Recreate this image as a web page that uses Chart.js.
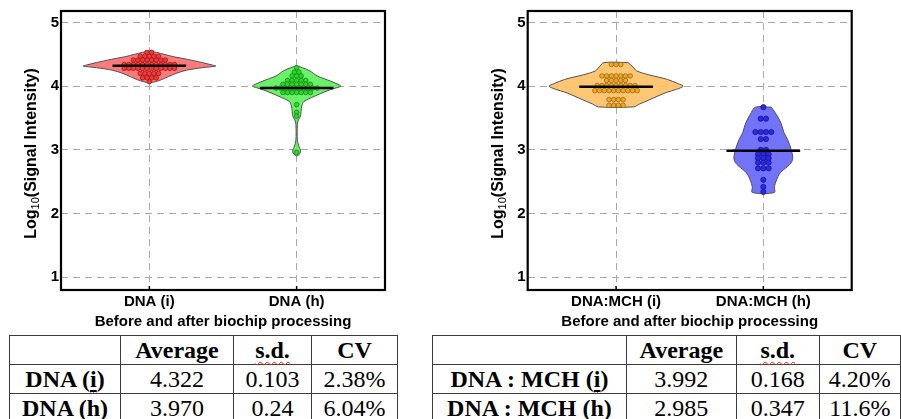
<!DOCTYPE html>
<html>
<head>
<meta charset="utf-8">
<script src="https://cdn.jsdelivr.net/npm/chart.js@4.4.1/dist/chart.umd.min.js"></script>
<style>
  html, body { margin: 0; padding: 0; background: #fff; }
  body { width: 901px; height: 419px; overflow: hidden; position: relative; }
  canvas { position: absolute; top: 0; }
  #chartLeft { left: 0; }
  #chartRight { left: 450px; }
  table {
    position: absolute; top: 335px; border-collapse: collapse; table-layout: fixed;
    font-family: "Liberation Serif", "Times New Roman", Tinos, "DejaVu Serif", serif; font-size: 24px; color: #000;
  }
  td { font-family: "Liberation Serif", "Times New Roman", Tinos, "DejaVu Serif", serif; border: 1px solid #3c3c3c; padding: 0; height: 28px; line-height: 27px; text-align: center; white-space: nowrap; }
  td.b { font-weight: bold; }
  .sq { text-decoration-line: underline; text-decoration-style: wavy; text-decoration-color: #e02020; text-decoration-thickness: 1px; text-underline-offset: 3px; }
  #tableLeft { left: 9px; }
  #tableRight { left: 432px; }
</style>
</head>
<body>
<canvas id="chartLeft" width="450" height="335"></canvas>
<canvas id="chartRight" width="450" height="335"></canvas>
<table id="tableLeft"><colgroup><col style="width:111px"><col style="width:113px"><col style="width:78px"><col style="width:86px"></colgroup><tbody></tbody></table>
<table id="tableRight"><colgroup><col style="width:195px"><col style="width:111px"><col style="width:84px"><col style="width:82px"></colgroup><tbody></tbody></table>
<script>
'use strict';

// categories / axis text
const leftGroups = ['DNA (i)', 'DNA (h)'];
const rightGroups = ['DNA:MCH (i)', 'DNA:MCH (h)'];
const xTitle = 'Before and after biochip processing';
const yTickValues = [1, 2, 3, 4, 5];

// table values
const tableHead = ['', 'Average', 's.d.', 'CV'];
const leftRows = ['DNA (i)', 'DNA (h)'];
const leftAvg = ['4.322', '3.970'];
const leftSd = ['0.103', '0.24'];
const leftCv = ['2.38%', '6.04%'];
const rightRows = ['DNA : MCH (i)', 'DNA : MCH (h)'];
const rightAvg = ['3.992', '2.985'];
const rightSd = ['0.168', '0.347'];
const rightCv = ['4.20%', '11.6%'];

// mean lines
const leftMeans = [4.322, 3.970];
const rightMeans = [3.992, 2.985];

// individual spots, log10 signal
const dnaI = [4.53, 4.53,
  4.47, 4.47, 4.47, 4.47, 4.47,
  4.41, 4.41, 4.41, 4.41, 4.41, 4.41, 4.41, 4.41,
  4.34, 4.34, 4.34, 4.34, 4.34, 4.34, 4.34, 4.34, 4.34, 4.34, 4.34, 4.34,
  4.28, 4.28, 4.28, 4.28, 4.28, 4.28, 4.28, 4.28, 4.28, 4.28, 4.28, 4.28,
  4.20, 4.20, 4.20, 4.20, 4.20,
  4.13, 4.13, 4.13, 4.13,
  4.07];
const dnaH = [4.29,
  4.22, 4.22,
  4.16, 4.16, 4.16,
  4.09, 4.09, 4.09, 4.09, 4.09,
  4.03, 4.03, 4.03, 4.03, 4.03, 4.03, 4.03,
  3.97, 3.97, 3.97, 3.97, 3.97, 3.97, 3.97, 3.97, 3.97, 3.97,
  3.90, 3.90, 3.90, 3.90, 3.90, 3.90, 3.90,
  3.71, 3.59, 3.53, 2.96];
const mchI = [4.34, 4.34, 4.34,
  4.16, 4.16, 4.16, 4.16, 4.16, 4.16, 4.16,
  4.09, 4.09, 4.09, 4.09, 4.09,
  4.01, 4.01, 4.01, 4.01, 4.01, 4.01, 4.01, 4.01, 4.01,
  3.93, 3.93, 3.93, 3.93, 3.93, 3.93, 3.93, 3.93, 3.93, 3.93,
  3.79, 3.79, 3.79, 3.79,
  3.70, 3.70, 3.70, 3.70];
const mchH = [3.67,
  3.49, 3.49,
  3.28, 3.28, 3.28, 3.28,
  3.17, 3.17,
  3.00, 3.00,
  2.93, 2.93, 2.93,
  2.87, 2.87, 2.87,
  2.80, 2.80, 2.80,
  2.71, 2.71, 2.71,
  2.53, 2.42, 2.34];

// violin density outlines: level and half width (x units)
const dnaILevels = [4.55, 4.53, 4.50, 4.46, 4.42, 4.37, 4.33, 4.315, 4.29, 4.25, 4.20, 4.15, 4.10, 4.07, 4.05];
const dnaIWidths = [0, 0.05, 0.10, 0.17, 0.26, 0.36, 0.43, 0.45, 0.36, 0.25, 0.18, 0.13, 0.08, 0.04, 0];
const dnaHLevels = [4.32, 4.29, 4.24, 4.16, 4.08, 4.03, 4.00, 3.96, 3.92, 3.84, 3.76, 3.69, 3.60, 3.52, 3.47, 3.40, 3.15, 3.06, 2.98, 2.93, 2.90];
const dnaHWidths = [0, 0.04, 0.09, 0.14, 0.23, 0.28, 0.30, 0.25, 0.20, 0.12, 0.05, 0.035, 0.03, 0.025, 0.012, 0.005, 0.005, 0.015, 0.027, 0.018, 0];
const mchILevels = [4.37, 4.30, 4.24, 4.18, 4.105, 4.04, 4.00, 3.95, 3.90, 3.79, 3.72, 3.675];
const mchIWidths = [0.082, 0.115, 0.14, 0.22, 0.35, 0.42, 0.455, 0.41, 0.34, 0.23, 0.16, 0.12];
const mchHLevels = [3.67, 3.55, 3.42, 3.27, 3.16, 3.00, 2.87, 2.80, 2.74, 2.64, 2.53, 2.42, 2.33];
const mchHWidths = [0.054, 0.09, 0.12, 0.14, 0.165, 0.19, 0.20, 0.19, 0.165, 0.115, 0.09, 0.075, 0.075];

const FONT = "'Liberation Sans', Arial, sans-serif";

// closed outline: right side top->bottom, left side bottom->top, back to start
function outline(levels, widths, center) {
    const pts = [];
    levels.forEach((y, i) => pts.push({ x: center + widths[i], y }));
    for (let i = levels.length - 1; i >= 0; i--) pts.push({ x: center - widths[i], y: levels[i] });
    pts.push(pts[0]);
    return pts;
}

// simple beeswarm: equal values sit side by side
function swarm(values, center, step) {
    const rows = new Map();
    values.forEach(v => rows.set(v, (rows.get(v) || 0) + 1));
    const pts = [];
    rows.forEach((n, v) => {
        for (let k = 0; k < n; k++) pts.push({ x: center + (k - (n - 1) / 2) * step, y: v });
    });
    return pts;
}

const framePlugin = {
    id: 'frame',
    afterDraw(chart) {
        const { ctx, chartArea: a, scales } = chart;
        ctx.save();
        ctx.strokeStyle = '#000';
        ctx.lineWidth = 1.5;
        scales.x.ticks.forEach(t => {
            const px = scales.x.getPixelForValue(t.value);
            ctx.beginPath(); ctx.moveTo(px, a.bottom); ctx.lineTo(px, a.bottom - 4); ctx.stroke();
        });
        ctx.lineWidth = 2.2;
        ctx.strokeRect(a.left, a.top, a.right - a.left, a.bottom - a.top);
        ctx.restore();
    }
};

const yTitlePlugin = {
    id: 'yTitle',
    afterDraw(chart) {
        const { ctx, chartArea: a } = chart;
        const big = `bold 16px ${FONT}`;
        const small = `11px ${FONT}`;
        const parts = [['Log', big, 0], ['10', small, 3], ['(Signal Intensity)', big, 0]];
        ctx.save();
        ctx.translate(a.left - 25, (a.top + a.bottom) / 2 + 3);
        ctx.rotate(-Math.PI / 2);
        ctx.fillStyle = '#000';
        ctx.textAlign = 'left';
        ctx.textBaseline = 'alphabetic';
        let total = 0;
        parts.forEach(p => { ctx.font = p[1]; total += ctx.measureText(p[0]).width; });
        let x = -total / 2;
        parts.forEach(p => {
            ctx.font = p[1];
            ctx.fillText(p[0], x, p[2]);
            x += ctx.measureText(p[0]).width;
        });
        ctx.restore();
    }
};

function makeChart(id, groups, means, series, axisWidth, rightPad) {
    const datasets = [];
    series.forEach((s, i) => {
        const c = i + 1;
        datasets.push({
            type: 'line', indexAxis: 'y', data: outline(s.levels, s.widths, c),
            fill: 'shape', backgroundColor: s.fill, borderColor: '#505050', borderWidth: 1,
            pointRadius: 0, tension: 0.3, order: 3
        });
        datasets.push({
            type: 'scatter', data: swarm(s.values, c, s.step),
            backgroundColor: s.dot, borderColor: s.edge, borderWidth: 0.8, pointRadius: s.r, order: 2
        });
        datasets.push({
            type: 'line', data: [{ x: c - 0.25, y: means[i] }, { x: c + 0.25, y: means[i] }],
            borderColor: '#000', borderWidth: 2.5, pointRadius: 0, fill: false, order: 1
        });
    });

    return new Chart(document.getElementById(id), {
        type: 'scatter',
        data: { datasets },
        options: {
            responsive: false, animation: false, devicePixelRatio: 1,
            layout: { padding: { top: 11, right: rightPad, bottom: 0, left: 0 } },
            plugins: { legend: { display: false }, tooltip: { enabled: false } },
            scales: {
                x: {
                    type: 'linear', min: 0.4, max: 2.6,
                    afterBuildTicks: s => { s.ticks = groups.map((g, i) => ({ value: i + 1 })); },
                    afterFit: s => { s.height = 45; },
                    ticks: { callback: v => groups[v - 1], color: '#000', font: { family: FONT, size: 15, weight: 'bold' }, padding: 3, maxRotation: 0, autoSkip: false },
                    grid: { color: '#a9a9a9', lineWidth: 1, drawTicks: false },
                    border: { display: false, dash: [7, 5] },
                    title: { display: true, text: xTitle, color: '#000', font: { family: FONT, size: 15, weight: 'bold' }, padding: { top: 0, bottom: 4 } }
                },
                y: {
                    min: 0.8, max: 5.18,
                    afterBuildTicks: s => { s.ticks = yTickValues.map(v => ({ value: v })); },
                    afterFit: s => { s.width = axisWidth; },
                    ticks: { color: '#000', font: { family: FONT, size: 15, weight: 'bold' }, padding: 2 },
                    grid: { color: '#a9a9a9', lineWidth: 1, drawTicks: false },
                    border: { display: false, dash: [7, 5] }
                }
            }
        },
        plugins: [framePlugin, yTitlePlugin]
    });
}

makeChart('chartLeft', leftGroups, leftMeans, [
    { levels: dnaILevels, widths: dnaIWidths, values: dnaI, step: 0.031, r: 2.3, fill: 'rgba(255,100,100,0.85)', dot: '#ef3b3b', edge: '#a01818' },
    { levels: dnaHLevels, widths: dnaHWidths, values: dnaH, step: 0.031, r: 2.3, fill: 'rgba(90,240,90,0.9)', dot: '#2ed52e', edge: '#138a13' }
], 61, 65);

makeChart('chartRight', rightGroups, rightMeans, [
    { levels: mchILevels, widths: mchIWidths, values: mchI, step: 0.032, r: 2.3, fill: 'rgba(252,192,100,0.9)', dot: '#f2a52a', edge: '#9a6a10' },
    { levels: mchHLevels, widths: mchHWidths, values: mchH, step: 0.036, r: 2.6, fill: 'rgba(100,100,250,0.9)', dot: '#2a2ae6', edge: '#15158a' }
], 77.7, 48.3);

function fillTable(id, rows, avg, sd, cv) {
    const body = document.querySelector(`#${id} tbody`);
    const mark = s => s.replace('(i)', '(<span class="sq"><u>i</u></span>)');
    let html = '<tr>' + tableHead.map(h => `<td class="b">${h === 's.d.' ? '<span class="sq">s.d.</span>' : h}</td>`).join('') + '</tr>';
    rows.forEach((r, i) => {
        html += `<tr><td class="b">${mark(r)}</td><td>${avg[i]}</td><td>${sd[i]}</td><td>${cv[i]}</td></tr>`;
    });
    body.innerHTML = html;
}

fillTable('tableLeft', leftRows, leftAvg, leftSd, leftCv);
fillTable('tableRight', rightRows, rightAvg, rightSd, rightCv);
</script>
</body>
</html>
